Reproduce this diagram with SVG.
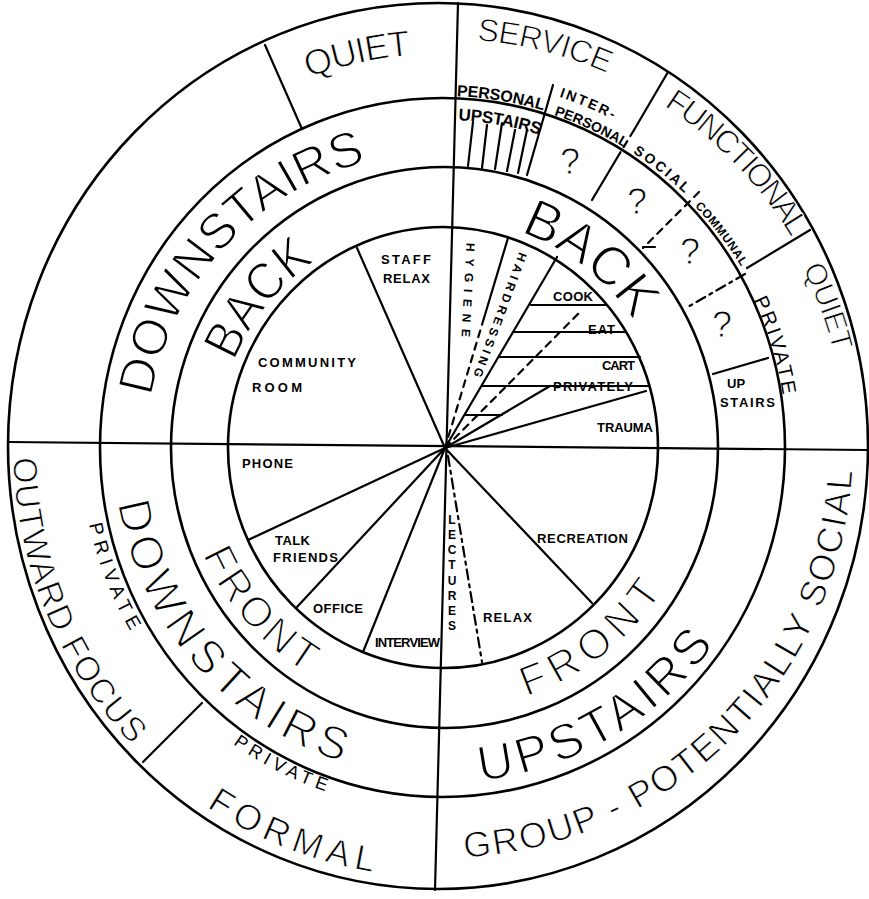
<svg xmlns="http://www.w3.org/2000/svg" width="869" height="899" viewBox="0 0 869 899">
<style>
.ring{fill:none;stroke:#000;stroke-width:2.6}
.ln{fill:none;stroke:#000;stroke-width:2.2;stroke-linecap:round}
.dash{stroke-dasharray:7 6}
.dd{stroke-dasharray:10 5 3 5}
text{font-family:"Liberation Sans",Arial,sans-serif;fill:#000}
.big{font-size:50px}
.th{stroke:#fff;stroke-width:1.5px}
.tm{stroke:#fff;stroke-width:0.9px}
.lab{font-size:13px;font-weight:700}
.q{font-size:36px;text-anchor:middle}
.c{text-anchor:middle}
</style>
<defs>
<path id="p1" d="M147.3,460.9 A296,296 0 0 1 430.1,152.3"/>
<path id="p2" d="M219.8,412.6 A226,226 0 0 1 362.0,237.0"/>
<path id="p3" d="M232.5,115.0 A394,394 0 0 1 495.8,57.6"/>
<path id="p4" d="M401.7,41.1 A409,409 0 0 1 672.9,109.7"/>
<path id="p5" d="M620.5,81.7 A407,407 0 0 1 814.4,281.5"/>
<path id="p6" d="M771.5,216.3 A402,402 0 0 1 843.3,411.6"/>
<path id="p7" d="M734.1,264.7 A344,344 0 0 1 786.7,434.8"/>
<path id="p8" d="M385.5,125.1 A328,328 0 0 1 606.5,163.7"/>
<path id="p9" d="M378.2,102.0 A352,352 0 0 1 615.8,141.3"/>
<path id="p10" d="M525.0,87.2 A370,370 0 0 1 643.4,137.0"/>
<path id="p11" d="M532.7,108.6 A351,351 0 0 1 643.3,159.8"/>
<path id="p12" d="M608.3,138.4 A351,351 0 0 1 704.3,213.6"/>
<path id="p13" d="M678.3,190.3 A349,349 0 0 1 752.3,286.3"/>
<path id="p14" d="M494.3,224.8 A229,229 0 0 1 646.9,343.9"/>
<path id="p15" d="M113.8,424.4 A330,330 0 0 0 419.4,777.2"/>
<path id="p16" d="M185.1,499.5 A263,263 0 0 0 358.7,697.1"/>
<path id="p17" d="M81.1,455.9 A362,362 0 0 0 170.8,686.7"/>
<path id="p18" d="M16.7,391.9 A430,430 0 0 0 181.2,789.1"/>
<path id="p19" d="M176.9,694.9 A363,363 0 0 0 397.8,808.2"/>
<path id="p20" d="M158.6,770.5 A430,430 0 0 0 432.5,877.9"/>
<path id="p21" d="M500.4,703.6 A262,262 0 0 0 675.7,568.4"/>
<path id="p22" d="M415.3,781.9 A335,335 0 0 0 747.2,588.3"/>
<path id="p23" d="M406.6,856.4 A410,410 0 0 0 851.5,413.0"/>
</defs>
<rect width="869" height="899" fill="#fff"/>

<g id="rings">
<ellipse class="ring" cx="438" cy="446" rx="430" ry="443"/>
<ellipse class="ring" cx="442.5" cy="447.5" rx="342.5" ry="349.5"/>
<ellipse class="ring" cx="444.5" cy="447.5" rx="273.5" ry="280.5"/>
<ellipse class="ring" cx="443" cy="447.5" rx="215" ry="220.5"/>
</g>

<g id="connectors">
<line class="ln" x1="458" y1="3" x2="435" y2="890" stroke-width="2.6"/>
<line class="ln" x1="8" y1="442" x2="867" y2="450" stroke-width="2.6"/>
<line class="ln" x1="265" y1="45" x2="302" y2="129"/>
<line class="ln" x1="553" y1="85" x2="527" y2="175"/>
<line class="ln" x1="473" y1="122" x2="468" y2="166"/>
<line class="ln" x1="487" y1="125" x2="482" y2="168"/>
<line class="ln" x1="502" y1="123" x2="495" y2="169"/>
<line class="ln" x1="515" y1="130" x2="507" y2="171"/>
<line class="ln" x1="527" y1="130" x2="518" y2="173"/>
<line class="ln" x1="668" y1="72" x2="634" y2="130"/>
<line class="ln dash" x1="634" y1="130" x2="620" y2="153"/>
<line class="ln" x1="620" y1="153" x2="592" y2="200"/>
<line class="ln dash" x1="699" y1="192" x2="643" y2="248"/>
<line class="ln" x1="643" y1="247" x2="655" y2="247"/>
<line class="ln" x1="810" y1="230" x2="747" y2="268"/>
<line class="ln dd" x1="745" y1="274" x2="686" y2="308"/>
<line class="ln" x1="713" y1="374" x2="768" y2="358"/>
<line class="ln" x1="202" y1="703" x2="143" y2="762"/>
<line class="ln" x1="445" y1="448" x2="357" y2="248"/>
<line class="ln" x1="508" y1="238" x2="484" y2="318"/>
<line class="ln dash" x1="484" y1="318" x2="445" y2="448"/>
<line class="ln" x1="445" y1="448" x2="557" y2="257"/>
<line class="ln dash" x1="445" y1="448" x2="580" y2="312"/>
<line class="ln" x1="445" y1="448" x2="550" y2="386"/>
<line class="ln" x1="445" y1="448" x2="646" y2="391"/>
<line class="ln" x1="531" y1="305" x2="607" y2="305"/>
<line class="ln" x1="514" y1="332" x2="626" y2="332"/>
<line class="ln" x1="499" y1="357" x2="640" y2="357"/>
<line class="ln" x1="482" y1="386" x2="649" y2="386"/>
<line class="ln" x1="465" y1="415" x2="502" y2="415"/>
<line class="ln" x1="445" y1="448" x2="248" y2="540"/>
<line class="ln" x1="445" y1="448" x2="297" y2="607"/>
<line class="ln" x1="445" y1="448" x2="363" y2="652"/>
<line class="ln dd" x1="448" y1="456" x2="482" y2="662"/>
<line class="ln" x1="445" y1="448" x2="592" y2="603"/>
</g>

<g id="quiet-tl"><text class="c tm" style="font-size:36px"><textPath href="#p3" startOffset="50%" textLength="105" lengthAdjust="spacing">QUIET</textPath></text></g>
<g id="service"><text class="c tm" style="font-size:32px"><textPath href="#p4" startOffset="50%" textLength="135" lengthAdjust="spacing">SERVICE</textPath></text></g>
<g id="functional"><text class="c tm" style="font-size:32px"><textPath href="#p5" startOffset="50%" textLength="185" lengthAdjust="spacing">FUNCTIONAL</textPath></text></g>
<g id="quiet-r"><text class="c tm" style="font-size:30px"><textPath href="#p6" startOffset="50%" textLength="89" lengthAdjust="spacing">QUIET</textPath></text></g>
<g id="private-r"><text class="c" style="font-size:20px"><textPath href="#p7" startOffset="50%" textLength="100" lengthAdjust="spacing">PRIVATE</textPath></text></g>
<g id="personal"><text class="c" style="font-size:16px;font-weight:700"><textPath href="#p9" startOffset="50%" textLength="88" lengthAdjust="spacing">PERSONAL</textPath></text></g>
<g id="interpersonal">
<text class="c" style="font-size:14px;font-weight:700"><textPath href="#p10" startOffset="50%" textLength="58" lengthAdjust="spacing">INTER-</textPath></text>
<text class="c" style="font-size:14px;font-weight:700"><textPath href="#p11" startOffset="50%" textLength="78" lengthAdjust="spacing">PERSONAL</textPath></text>
</g>
<g id="social"><text class="c" style="font-size:14px;font-weight:700"><textPath href="#p12" startOffset="50%" textLength="66" lengthAdjust="spacing">SOCIAL</textPath></text></g>
<g id="communal"><text class="c" style="font-size:12px;font-weight:700"><textPath href="#p13" startOffset="50%" textLength="76" lengthAdjust="spacing">COMMUNAL</textPath></text></g>
<g id="upstairs-small"><text class="c" style="font-size:17px;font-weight:700"><textPath href="#p8" startOffset="50%" textLength="83" lengthAdjust="spacing">UPSTAIRS</textPath></text></g>
<g id="q1"><text class="q tm" x="570" y="174">?</text></g>
<g id="q2"><text class="q tm" x="637" y="214">?</text></g>
<g id="q3"><text class="q tm" x="690" y="264">?</text></g>
<g id="q4"><text class="q tm" x="722" y="337">?</text></g>
<g id="upstairs-box"><text class="lab" x="727" y="388">UP</text><text class="lab" x="720" y="407" textLength="55">STAIRS</text></g>
<g id="downstairs-tl"><text class="c big th"><textPath href="#p1" startOffset="50%" textLength="336" lengthAdjust="spacing">DOWNSTAIRS</textPath></text></g>
<g id="back-tl"><text class="c th" style="font-size:52px"><textPath href="#p2" startOffset="50%" textLength="130" lengthAdjust="spacingAndGlyphs">BACK</textPath></text></g>
<g id="back-tr"><text class="c th" style="font-size:55px"><textPath href="#p14" startOffset="50%" textLength="146" lengthAdjust="spacingAndGlyphs">BACK</textPath></text></g>
<g id="downstairs-bl"><text class="c th" style="font-size:46px"><textPath href="#p15" startOffset="50%" textLength="360" lengthAdjust="spacing">DOWNSTAIRS</textPath></text></g>
<g id="front-bl"><text class="c th" style="font-size:42px"><textPath href="#p16" startOffset="50%" textLength="160" lengthAdjust="spacing">FRONT</textPath></text></g>
<g id="private-l"><text class="c" style="font-size:19px"><textPath href="#p17" startOffset="50%" textLength="115" lengthAdjust="spacing">PRIVATE</textPath></text></g>
<g id="outward-focus"><text class="c tm" style="font-size:34px"><textPath href="#p18" startOffset="50%" textLength="318" lengthAdjust="spacing">OUTWARD FOCUS</textPath></text></g>
<g id="private-b"><text class="c" style="font-size:18px"><textPath href="#p19" startOffset="50%" textLength="104" lengthAdjust="spacing">PRIVATE</textPath></text></g>
<g id="formal"><text class="c tm" style="font-size:36px"><textPath href="#p20" startOffset="50%" textLength="180" lengthAdjust="spacing">FORMAL</textPath></text></g>
<g id="front-br"><text class="c th" style="font-size:42px"><textPath href="#p21" startOffset="50%" textLength="175" lengthAdjust="spacing">FRONT</textPath></text></g>
<g id="upstairs-br"><text class="c th" style="font-size:50px"><textPath href="#p22" startOffset="50%" textLength="279" lengthAdjust="spacing">UPSTAIRS</textPath></text></g>
<g id="group-social"><text class="c tm" style="font-size:36px"><textPath href="#p23" startOffset="50%" textLength="600" lengthAdjust="spacing">GROUP - POTENTIALLY SOCIAL</textPath></text></g>

<g id="staff-relax"><text class="lab" x="381" y="264" textLength="50">STAFF</text><text class="lab" x="383" y="283" textLength="47">RELAX</text></g>
<g id="community-room"><text class="lab" x="258" y="367" textLength="98">COMMUNITY</text><text class="lab" x="252" y="392" textLength="50">ROOM</text></g>
<g id="hygiene"><text class="lab c" transform="translate(468,290) rotate(93)" y="4" textLength="94" lengthAdjust="spacing" style="font-size:12px">HYGIENE</text></g>
<g id="hairdressing"><text class="lab c" transform="translate(500,315) rotate(110.4)" y="4" textLength="132" lengthAdjust="spacing" style="font-size:12px">HAIRDRESSING</text></g>
<g id="cook"><text class="lab" x="553" y="301" textLength="40">COOK</text></g>
<g id="eat"><text class="lab" x="588" y="334" textLength="27">EAT</text></g>
<g id="cart"><text class="lab" x="602" y="370" textLength="33">CART</text></g>
<g id="privately"><text class="lab" x="553" y="391" textLength="80">PRIVATELY</text></g>
<g id="trauma"><text class="lab" x="597" y="432" textLength="56">TRAUMA</text></g>
<g id="phone"><text class="lab" x="242" y="468" textLength="51">PHONE</text></g>
<g id="talk-friends"><text class="lab" x="275" y="545" textLength="35">TALK</text><text class="lab" x="273" y="562" textLength="65">FRIENDS</text></g>
<g id="office"><text class="lab" x="313" y="613" textLength="50">OFFICE</text></g>
<g id="interview"><text class="lab" x="375" y="647" textLength="65">INTERVIEW</text></g>
<g id="lectures"><text class="lab c" style="font-size:12px">
<tspan x="452" y="524">L</tspan><tspan x="452" y="539">E</tspan><tspan x="452" y="554">C</tspan><tspan x="452" y="569">T</tspan><tspan x="452" y="585">U</tspan><tspan x="452" y="600">R</tspan><tspan x="452" y="615">E</tspan><tspan x="452" y="630">S</tspan>
</text></g>
<g id="relax"><text class="lab" x="483" y="622" textLength="49">RELAX</text></g>
<g id="recreation"><text class="lab" x="537" y="543" textLength="91">RECREATION</text></g>
</svg>
